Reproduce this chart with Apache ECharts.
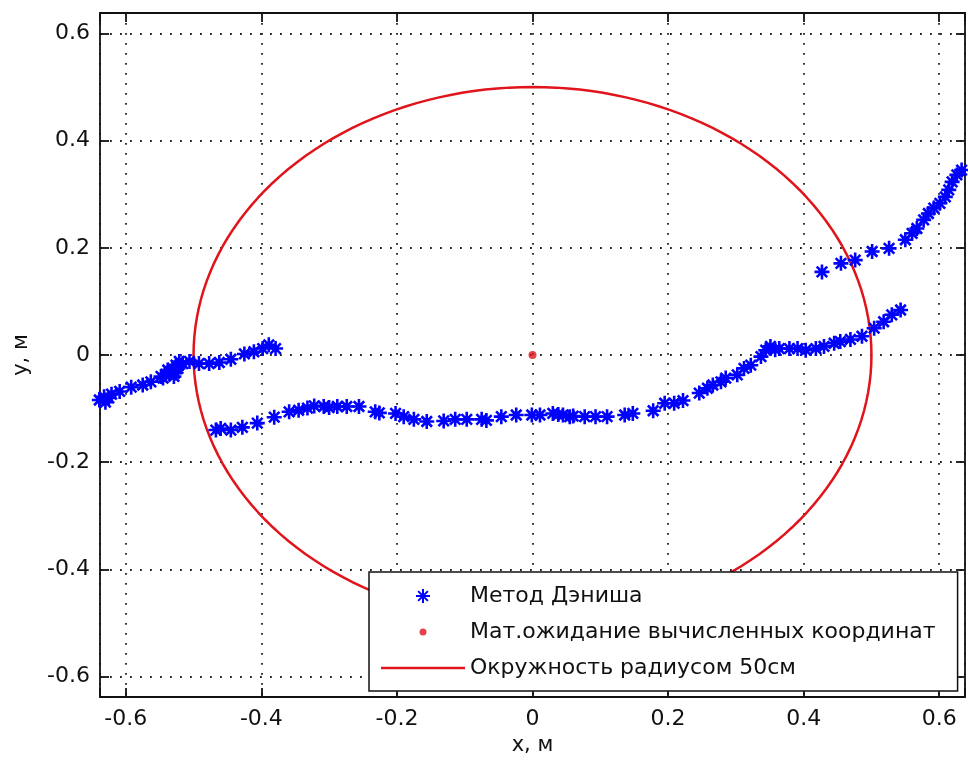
<!DOCTYPE html>
<html>
<head>
<meta charset="utf-8">
<script src="https://cdn.jsdelivr.net/npm/echarts@6/dist/echarts.min.js"></script>
<style>html,body{margin:0;padding:0;background:#fff}#c{width:968px;height:769px}</style>
</head>
<body>
<div id="c"></div>
<script>
// ---- data ----
const leftTrackX = [-0.639,-0.630,-0.632,-0.625,-0.621,-0.609,-0.592,-0.575,-0.563,-0.548,-0.545,-0.541,-0.538,-0.536,-0.533,-0.531,-0.529,-0.528,-0.526,-0.523,-0.521,-0.516,-0.506,-0.492,-0.477,-0.462,-0.445,-0.425,-0.411,-0.398,-0.389,-0.379];
const leftTrackY = [-0.084,-0.088,-0.078,-0.080,-0.073,-0.068,-0.060,-0.056,-0.050,-0.040,-0.043,-0.036,-0.028,-0.034,-0.030,-0.025,-0.040,-0.034,-0.019,-0.025,-0.012,-0.016,-0.012,-0.016,-0.016,-0.014,-0.008,0.002,0.006,0.012,0.019,0.012];
const lowerTrackX = [-0.467,-0.460,-0.445,-0.428,-0.406,-0.381,-0.359,-0.345,-0.332,-0.322,-0.308,-0.300,-0.288,-0.274,-0.256,-0.232,-0.226,-0.202,-0.190,-0.175,-0.156,-0.131,-0.114,-0.097,-0.075,-0.068,-0.046,-0.024,-0.001,0.011,0.030,0.038,0.045,0.055,0.060,0.077,0.093,0.110,0.136,0.148,0.178,0.195,0.209,0.222,0.246,0.258,0.266,0.278,0.285,0.302,0.312,0.322,0.337,0.344,0.351,0.358,0.364,0.379,0.391,0.403,0.418,0.430,0.445,0.454,0.469,0.486,0.504,0.518,0.530,0.543];
const lowerTrackY = [-0.140,-0.137,-0.140,-0.135,-0.127,-0.116,-0.106,-0.103,-0.099,-0.095,-0.096,-0.098,-0.096,-0.096,-0.096,-0.106,-0.108,-0.109,-0.115,-0.120,-0.124,-0.123,-0.120,-0.120,-0.120,-0.122,-0.115,-0.112,-0.112,-0.112,-0.109,-0.111,-0.112,-0.115,-0.114,-0.115,-0.115,-0.115,-0.112,-0.109,-0.104,-0.090,-0.090,-0.085,-0.071,-0.062,-0.056,-0.050,-0.043,-0.037,-0.025,-0.019,-0.003,0.009,0.016,0.010,0.012,0.012,0.012,0.009,0.012,0.016,0.022,0.025,0.029,0.035,0.050,0.062,0.075,0.084];
const upperTrackX = [0.427,0.455,0.476,0.501,0.526,0.550,0.560,0.567,0.577,0.584,0.592,0.601,0.609,0.614,0.619,0.626,0.633];
const upperTrackY = [0.155,0.171,0.177,0.193,0.199,0.215,0.227,0.236,0.252,0.264,0.274,0.283,0.295,0.308,0.323,0.336,0.345];
const meanPoint = [0, 0];
const circleCenter = [0, 0];
const circleRadius = 0.5; // "Окружность радиусом 50см"
const seriesNames = ['Метод Дэниша', 'Мат.ожидание вычисленных координат', 'Окружность радиусом 50см'];
const axisMin = -0.638, axisMax = 0.638;
const xAxisName = 'x, м', yAxisName = 'y, м';

// ---- build ----
function pairs(xs, ys) { return xs.map((x, i) => [x, ys[i]]); }
const starData = pairs(leftTrackX, leftTrackY).concat(pairs(lowerTrackX, lowerTrackY), pairs(upperTrackX, upperTrackY));
const circleData = [];
for (let a = 0; a <= 360; a += 2) {
  const t = a * Math.PI / 180;
  circleData.push([circleCenter[0] + circleRadius * Math.cos(t), circleCenter[1] + circleRadius * Math.sin(t)]);
}
const FONT = 'DejaVu Sans';
const STAR = 'path://M0,-10L0,10M-10,0L10,0M-7,-7L7,7M-7,7L7,-7';
const DOT_ICON = 'path://M-5,-5M5,5M-2.5,0A2.5,2.5,0,1,0,2.5,0A2.5,2.5,0,1,0,-2.5,0Z';
const LINE_ICON = 'path://M0,0L84,0L84,2.6L0,2.6Z';
function fmt(v) {
  if (Math.abs(v * 5 - Math.round(v * 5)) > 1e-6) return '';
  const r = Math.round(v * 5) / 5;
  return r === 0 ? '0' : String(+r.toFixed(1));
}
const grid = {left: 100, right: 0, top: 13, bottom: 72, show: false};
const dotted = {show: true, lineStyle: {color: '#222', width: 1.8, type: [1.8, 8.2]}};
const axisLine = {show: true, onZero: false, lineStyle: {color: '#111', width: 1.8}};
const tick = {show: true, inside: true, length: 9, lineStyle: {color: '#111', width: 1.8}};
const chart = echarts.init(document.getElementById('c'), null, {renderer: 'canvas'});
chart.setOption({
  animation: false,
  backgroundColor: '#fff',
  grid: grid,
  xAxis: [
    {type: 'value', min: axisMin, max: axisMax, splitNumber: 6, position: 'bottom',
     axisLine: axisLine, axisTick: tick, splitLine: dotted,
     axisLabel: {formatter: fmt, color: '#111', fontFamily: FONT, fontSize: 22, margin: 11},
     name: xAxisName, nameLocation: 'middle', nameGap: 38,
     nameTextStyle: {color: '#111', fontFamily: FONT, fontSize: 21}},
    {type: 'value', min: axisMin, max: axisMax, splitNumber: 6, position: 'top',
     axisLine: axisLine, axisTick: tick, splitLine: {show: false}, axisLabel: {show: false}}
  ],
  yAxis: [
    {type: 'value', min: axisMin, max: axisMax, splitNumber: 6, position: 'left',
     axisLine: axisLine, axisTick: tick, splitLine: dotted,
     axisLabel: {formatter: fmt, color: '#111', fontFamily: FONT, fontSize: 22, margin: 10},
     name: yAxisName, nameLocation: 'middle', nameGap: 68, nameRotate: 90,
     nameTextStyle: {color: '#111', fontFamily: FONT, fontSize: 21}},
    {type: 'value', min: axisMin, max: axisMax, splitNumber: 6, position: 'right',
     axisLine: axisLine, axisTick: tick, splitLine: {show: false}, axisLabel: {show: false}}
  ],
  legend: {
    left: 369, top: 572, orient: 'vertical',
    itemWidth: 84, itemHeight: 14, itemGap: 12,
    padding: [12, 22, 11, 12],
    backgroundColor: '#fff', borderColor: '#111', borderWidth: 1.5,
    textStyle: {fontFamily: FONT, fontSize: 22, color: '#111', lineHeight: 24},
    data: [
      {name: seriesNames[0], icon: STAR},
      {name: seriesNames[1], icon: DOT_ICON},
      {name: seriesNames[2], icon: LINE_ICON}
    ]
  },
  series: [
    {name: seriesNames[2], type: 'line', data: circleData, symbol: 'none', showSymbol: false, smooth: false,
     lineStyle: {color: '#e0141a', width: 2.5}, itemStyle: {color: '#e0141a'}, z: 2},
    {name: seriesNames[0], type: 'scatter', data: starData, symbol: STAR, symbolSize: 15,
     itemStyle: {color: 'rgba(0,0,255,0)', borderColor: '#0000ff', borderWidth: 2.6, opacity: 1}, z: 3, clip: false},
    {name: seriesNames[1], type: 'scatter', data: [meanPoint], symbol: 'circle', symbolSize: 8,
     itemStyle: {color: '#e0141a'}, z: 4}
  ]
});
</script>
</body>
</html>
